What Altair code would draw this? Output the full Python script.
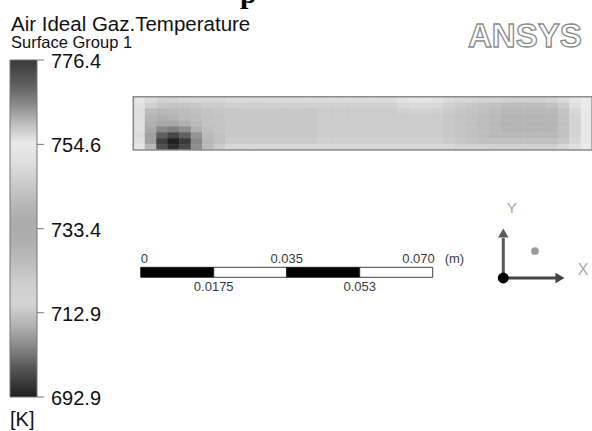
import math
import altair as alt
import pandas as pd

# ---------------- data ----------------
title_text = "Air Ideal Gaz.Temperature"
subtitle_text = "Surface Group 1"
unit_text = "[K]"
logo_text = "ANSYS"
cropped_caption = "p"

# temperature field [K], rows from top wall to bottom wall, 40 columns left -> right
field_rows = [
    [752, 749, 747, 747, 748, 748, 748, 748, 749, 749, 749, 749, 749, 749, 749, 749, 749, 749, 749, 749,
     749, 749, 749, 751, 752, 752, 751, 749, 748, 748, 747, 747, 746, 746, 746, 746, 747, 749, 752, 754],
    [751, 746, 744, 743, 743, 744, 745, 745, 746, 746, 746, 746, 746, 746, 746, 746, 746, 746, 746, 746,
     746, 746, 746, 748, 749, 749, 748, 746, 745, 744, 743, 742, 741, 741, 741, 741, 742, 745, 750, 754],
    [750, 740.6, 739.7, 740.6, 741, 742, 743, 744, 744, 744, 744, 744, 744, 744, 744, 744, 745, 745, 745, 745,
     745, 745, 745, 746, 747, 747, 746, 745, 744, 743, 742, 741, 740, 740, 740, 740, 740, 743, 748, 753],
    [750, 738.6, 737.6, 738.6, 740.6, 741, 742, 743, 744, 744, 744, 744, 744, 744, 744, 744, 745, 745, 745, 745,
     745, 745, 745, 745, 745, 745, 745, 744, 743, 742, 741, 740, 739, 739, 739, 739, 739, 742, 747, 753],
    [750, 737.6, 733.4, 733.4, 737.6, 740.6, 742.9, 743, 744, 744, 744, 744, 744, 744, 744, 744, 745, 745, 745, 745,
     745, 745, 745, 745, 745, 745, 745, 744, 743, 742, 741, 740, 739, 739, 739, 739, 739, 742, 747, 753],
    [750, 708.8, 704.8, 704.0, 705.6, 709.6, 741.8, 743, 744, 744, 744, 744, 744, 744, 744, 744, 745, 745, 745, 745,
     745, 745, 745, 745, 745, 745, 745, 744, 743, 742, 741, 740, 739, 739, 739, 739, 739, 742, 747, 753],
    [749, 707.8, 700.8, 697.8, 700.8, 706.5, 710.8, 742, 744, 744, 744, 744, 744, 744, 744, 744, 745, 745, 745, 745,
     745, 745, 745, 745, 745, 745, 745, 744, 743, 742, 741, 740, 740, 740, 740, 740, 740, 742, 747, 753],
    [750, 707.8, 696.8, 693.3, 696.1, 704.8, 710.4, 742, 745, 745, 745, 745, 745, 745, 745, 745, 746, 746, 746, 746,
     746, 746, 746, 746, 746, 746, 746, 745, 744, 743, 742, 742, 742, 742, 742, 742, 742, 744, 748, 753],
    [752, 710.4, 698.8, 694.9, 697.8, 705.6, 710.8, 745, 748, 748, 748, 748, 748, 748, 748, 748, 748, 748, 748, 748,
     748, 748, 748, 748, 748, 748, 748, 748, 747, 747, 747, 746, 746, 746, 746, 746, 746, 748, 750, 754],
]
box_length_m = 0.110
box_height_m = 0.01278

# colour bar
legend_values = [692.9, 712.9, 733.4, 754.6, 776.4]
cmap_values = [692.9, 696.8, 700.8, 704.8, 708.8, 712.9, 717.0, 721.0, 725.2, 729.3, 733.4,
               737.6, 741.8, 746.1, 750.3, 754.6, 758.9, 763.3, 767.6, 772.0, 776.4]
cmap_grays = ["#1e1e1e", "#404040", "#606060", "#888888", "#a8a8a8", "#cfcfcf", "#d8d8d8",
              "#cccccc", "#bcbcbc", "#b0b0b0", "#a8a8a8", "#b0b0b0", "#c0c0c0", "#d0d0d0",
              "#e0e0e0", "#ececec", "#c8c8c8", "#999999", "#707070", "#505050", "#3a3a3a"]

# length scale bar [m]
scale_bar_edges = [0.0, 0.0175, 0.035, 0.0525, 0.070]
scale_top_labels = ["0", "0.035", "0.070"]
scale_top_pos = [0.0, 0.035, 0.070]
scale_bottom_labels = ["0.0175", "0.053"]
scale_bottom_pos = [0.0175, 0.0525]
scale_unit = "(m)"

triad_labels = ["X", "Y"]

# ---------------- layout ----------------
W, H = 592, 431
PX_PER_M = 4171.4
BOX_LEFT_PX, BOX_BOTTOM_PX = 133.3, 150.0
BAR_SHIFT_PX = 7.4
OVERLAP_M = 0.5 / PX_PER_M   # tiny overlap of cells so no seams show
FONT = "Liberation Sans"

xs = alt.Scale(domain=[-BOX_LEFT_PX / PX_PER_M, (W - BOX_LEFT_PX) / PX_PER_M], nice=False, zero=False)
ys = alt.Scale(domain=[-(H - BOX_BOTTOM_PX) / PX_PER_M, BOX_BOTTOM_PX / PX_PER_M], nice=False, zero=False)

nrows, ncols = len(field_rows), len(field_rows[0])
dxm, dym = box_length_m / ncols, box_height_m / nrows
recs = []
for r, row in enumerate(field_rows):
    for c, T in enumerate(row):
        x2 = (c + 1) * dxm + (OVERLAP_M if c < ncols - 1 else 0)
        y1 = box_height_m - (r + 1) * dym - (OVERLAP_M if r < nrows - 1 else 0)
        recs.append(dict(x=c * dxm, x2=x2, y=y1, y2=box_height_m - r * dym, T=T))
df_field = pd.DataFrame(recs)

cscale = alt.Scale(type="log", domain=cmap_values, range=cmap_grays, nice=False)

LEG_X, LEG_Y, LEG_LEN, LEG_THICK = 10, 60, 337, 27

legend = alt.Legend(
    type="gradient", orient="none", legendX=LEG_X, legendY=LEG_Y, direction="vertical",
    gradientLength=LEG_LEN, gradientThickness=LEG_THICK, values=legend_values,
    labelExpr="''", labelFontSize=1, labelOverlap=False,
    title=unit_text, titleOrient="bottom", titleFontSize=20, titleFont=FONT,
    titleFontWeight="normal", titleColor="#111111", titlePadding=12, titleAnchor="start",
    gradientStrokeColor="#777777", gradientStrokeWidth=1,
)

field = alt.Chart(df_field).mark_rect().encode(
    x=alt.X("x:Q", scale=xs, axis=None), x2="x2:Q",
    y=alt.Y("y:Q", scale=ys, axis=None), y2="y2:Q",
    color=alt.Color("T:Q", scale=cscale, legend=legend),
)

box = alt.Chart(pd.DataFrame({"x": [0.0], "x2": [box_length_m], "y": [0.0], "y2": [box_height_m]})).mark_rect(
    fillOpacity=0, stroke="#8c8c8c", strokeWidth=1.6
).encode(x=alt.X("x:Q", scale=xs, axis=None), x2="x2:Q", y=alt.Y("y:Q", scale=ys, axis=None), y2="y2:Q")

# colour-bar ticks and labels (placed on the same log position as the gradient)
lmin, lmax = math.log(cmap_values[0]), math.log(cmap_values[-1])
tick_df = pd.DataFrame({
    "ypx": [LEG_Y + LEG_LEN * (lmax - math.log(v)) / (lmax - lmin) for v in legend_values],
    "label": [f"{v:.1f}" for v in legend_values],
})
cticks = alt.Chart(tick_df).mark_rule(color="#777777", strokeWidth=1).encode(
    x=alt.value(LEG_X + LEG_THICK), x2=alt.value(LEG_X + LEG_THICK + 7),
    y=alt.Y("ypx:Q", scale=None, axis=None),
)
clabels = alt.Chart(tick_df).mark_text(
    align="left", baseline="middle", dy=2, fontSize=20, font=FONT, color="#111111"
).encode(x=alt.value(51), y=alt.Y("ypx:Q", scale=None, axis=None), text="label:N")

# scale bar
sb = pd.DataFrame({"x": scale_bar_edges[:-1], "x2": scale_bar_edges[1:], "k": list(range(len(scale_bar_edges) - 1))})
bar = alt.Chart(sb).mark_rect(xOffset=BAR_SHIFT_PX, x2Offset=BAR_SHIFT_PX, stroke="#111111", strokeWidth=0.8).encode(
    x=alt.X("x:Q", scale=xs, axis=None), x2="x2:Q",
    y=alt.value(267.3), y2=alt.value(277.3),
    fill=alt.condition("datum.k % 2 == 0", alt.value("#000000"), alt.value("#ffffff")),
)

layers = [field, box, cticks, clabels, bar]

aligns = ["left", "center", "right"]
shifts = [0, 0, 2]
for i in range(len(scale_top_labels)):
    d = pd.DataFrame({"x": [scale_top_pos[i]], "label": [scale_top_labels[i]]})
    layers.append(alt.Chart(d).mark_text(align=aligns[i], baseline="alphabetic", xOffset=BAR_SHIFT_PX + shifts[i],
                                         fontSize=13, font=FONT, color="#3a3a3a").encode(
        x=alt.X("x:Q", scale=xs, axis=None), y=alt.value(263), text="label:N"))
for i in range(len(scale_bottom_labels)):
    d = pd.DataFrame({"x": [scale_bottom_pos[i]], "label": [scale_bottom_labels[i]]})
    layers.append(alt.Chart(d).mark_text(align="center", baseline="alphabetic", xOffset=BAR_SHIFT_PX,
                                         fontSize=13, font=FONT, color="#3a3a3a").encode(
        x=alt.X("x:Q", scale=xs, axis=None), y=alt.value(291), text="label:N"))
layers.append(alt.Chart(pd.DataFrame({"x": [scale_top_pos[-1]], "label": [scale_unit]})).mark_text(
    align="left", baseline="alphabetic", xOffset=BAR_SHIFT_PX + 12, fontSize=13, font=FONT, color="#3a3a3a"
).encode(x=alt.X("x:Q", scale=xs, axis=None), y=alt.value(263), text="label:N"))

# titles
layers.append(alt.Chart(pd.DataFrame({"t": [title_text]})).mark_text(
    align="left", baseline="alphabetic", fontSize=20.5, font=FONT, color="#111111"
).encode(x=alt.value(11), y=alt.value(30.5), text="t:N"))
layers.append(alt.Chart(pd.DataFrame({"t": [subtitle_text]})).mark_text(
    align="left", baseline="alphabetic", fontSize=16.5, font=FONT, color="#111111"
).encode(x=alt.value(11), y=alt.value(48), text="t:N"))
layers.append(alt.Chart(pd.DataFrame({"t": [cropped_caption]})).mark_text(
    align="left", baseline="alphabetic", fontSize=30, font="Liberation Serif", fontWeight="bold", color="#000000"
).encode(x=alt.value(240), y=alt.value(3), text="t:N"))

# logo
layers.append(alt.Chart(pd.DataFrame({"t": [logo_text]})).mark_text(
    align="left", baseline="alphabetic", fontSize=33, font=FONT, fontWeight="bold",
    fill="#ffffff", stroke="#8a8a8a", strokeWidth=1.3
).encode(x=alt.value(468), y=alt.value(47), text="t:N"))

# axis triad
one = pd.DataFrame({"t": [""]})
layers += [
    alt.Chart(one).mark_rule(color="#5a5a5a", strokeWidth=3).encode(
        x=alt.value(503.3), y=alt.value(278), y2=alt.value(238)),
    alt.Chart(one).mark_point(shape="triangle-up", filled=True, size=110, color="#5a5a5a", opacity=1).encode(
        x=alt.value(503.3), y=alt.value(233)),
    alt.Chart(one).mark_rule(color="#444444", strokeWidth=3).encode(
        x=alt.value(503.3), x2=alt.value(556), y=alt.value(278)),
    alt.Chart(one).mark_point(shape="triangle-right", filled=True, size=110, color="#444444", opacity=1).encode(
        x=alt.value(560), y=alt.value(278)),
    alt.Chart(one).mark_point(shape="circle", filled=True, size=120, color="#000000", opacity=1).encode(
        x=alt.value(503.3), y=alt.value(278)),
    alt.Chart(one).mark_point(shape="circle", filled=True, size=60, color="#9a9a9a", opacity=1).encode(
        x=alt.value(535), y=alt.value(251)),
    alt.Chart(pd.DataFrame({"t": [triad_labels[1]]})).mark_text(
        fontSize=15, font=FONT, color="#a8a8a8", align="center", baseline="middle").encode(
        x=alt.value(511.7), y=alt.value(208), text="t:N"),
    alt.Chart(pd.DataFrame({"t": [triad_labels[0]]})).mark_text(
        fontSize=16, font=FONT, color="#a8a8a8", align="center", baseline="middle").encode(
        x=alt.value(583), y=alt.value(270), text="t:N"),
]

chart = alt.layer(*layers).properties(
    width=W, height=H, padding=0, background="#ffffff",
    autosize=alt.AutoSizeParams(type="none"),
).configure_view(stroke=None)

chart.save("out.html", embed_options={"renderer": "svg", "actions": False})
